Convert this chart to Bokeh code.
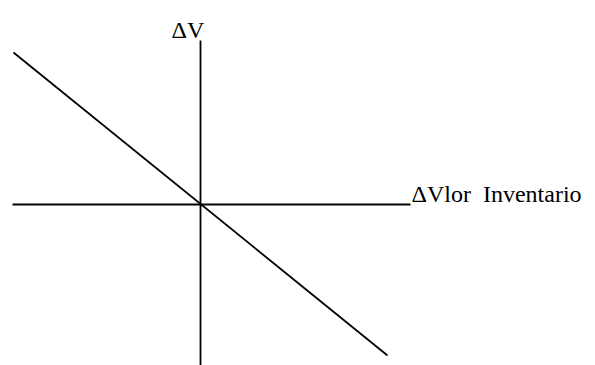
from bokeh.plotting import figure
from bokeh.models import Range1d
from bokeh.core.properties import value
from bokeh.embed import file_html
from bokeh.resources import INLINE

# Conceptual diagram: axes crossing at origin, line with negative slope
h_axis_x = [-188, 210]
h_axis_y = [0, 0]
v_axis_x = [0, 0]
v_axis_y = [-165, 164]
line_x = [-187, 187]
line_y = [152, -151]

label_y_text = ["ΔV"]
label_y_pos_x = [-29]
label_y_pos_y = [175]
label_x_text = ["ΔVlor\u00a0 Inventario"]
label_x_pos_x = [211]
label_x_pos_y = [11]

p = figure(width=595, height=365, output_backend="svg", toolbar_location=None,
           x_range=Range1d(-200, 395), y_range=Range1d(-161, 204),
           x_axis_type=None, y_axis_type=None, min_border=0)
p.grid.visible = False
p.outline_line_color = None
p.background_fill_color = "white"
p.border_fill_color = "white"

p.line(h_axis_x, h_axis_y, line_color="black", line_width=1.8)
p.line(v_axis_x, v_axis_y, line_color="black", line_width=1.8)
p.line(line_x, line_y, line_color="black", line_width=1.8)

p.text(label_y_pos_x, label_y_pos_y, text=label_y_text, text_font=value("Liberation Serif"),
       text_font_size="24px", text_color="black", text_baseline="alphabetic", text_align="left")
p.text(label_x_pos_x, label_x_pos_y, text=label_x_text, text_font=value("Liberation Serif"),
       text_font_size="24px", text_color="black", text_baseline="alphabetic", text_align="left")

open("out.html", "w").write(file_html(p, INLINE))
